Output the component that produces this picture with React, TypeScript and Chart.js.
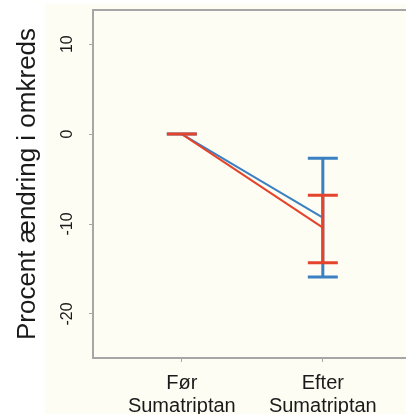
import React, { useEffect, useRef } from "react";
import { Chart, registerables } from "chart.js";

Chart.register(...registerables);

const categoryLabels: string[][] = [["Før", "Sumatriptan"], ["Efter", "Sumatriptan"]];
const categoryPositions = [1, 2];
const blueMeans = [0, -9.3];
const blueUpper = [0, -2.7];
const blueLower = [0, -15.9];
const redMeans = [0, -10.4];
const redUpper = [0, -6.8];
const redLower = [0, -14.3];
const yTicks = [-20, -10, 0, 10];
const yTitle = "Procent ændring i omkreds";

const BLUE = "#3b80c2";
const RED = "#e4442b";
const AXIS = "#a6a6a6";
const FONT = "'Liberation Sans', Arial, sans-serif";

export default function App() {
  const ref = useRef<HTMLCanvasElement | null>(null);

  useEffect(() => {
    const canvas = ref.current;
    if (!canvas) return;

    const bgPlugin = {
      id: "bg",
      beforeDraw(chart: any) {
        const { ctx, width, height } = chart;
        ctx.save();
        ctx.fillStyle = "#ffffff";
        ctx.fillRect(0, 0, width, height);
        ctx.fillStyle = "#fdfdf4";
        ctx.fillRect(45, 4, width - 45, height - 4);
        ctx.restore();
      },
    };

    const frameAndBars = {
      id: "frameAndBars",
      afterDatasetsDraw(chart: any) {
        const { ctx, chartArea, scales } = chart;
        const xs = scales.x;
        const ys = scales.y;
        ctx.save();
        ctx.strokeStyle = AXIS;
        ctx.lineWidth = 2;
        ctx.beginPath();
        ctx.moveTo(chartArea.left, chartArea.top);
        ctx.lineTo(chartArea.right, chartArea.top);
        ctx.stroke();

        const drawBars = (upper: number[], lower: number[], color: string) => {
          ctx.strokeStyle = color;
          ctx.lineWidth = 3;
          categoryPositions.forEach((pos, i) => {
            const x = xs.getPixelForValue(pos);
            const yT = ys.getPixelForValue(upper[i]);
            const yB = ys.getPixelForValue(lower[i]);
            const half = 15;
            ctx.beginPath();
            ctx.moveTo(x, yT);
            ctx.lineTo(x, yB);
            ctx.moveTo(x - half, yT);
            ctx.lineTo(x + half, yT);
            ctx.moveTo(x - half, yB);
            ctx.lineTo(x + half, yB);
            ctx.stroke();
          });
        };
        drawBars(blueUpper, blueLower, BLUE);
        drawBars(redUpper, redLower, RED);
        ctx.restore();
      },
    };

    const chart = new Chart(canvas, {
      type: "line",
      data: {
        datasets: [
          {
            label: "blue",
            data: categoryPositions.map((p, i) => ({ x: p, y: blueMeans[i] })),
            borderColor: BLUE,
            borderWidth: 2,
            pointRadius: 0,
            order: 2,
          },
          {
            label: "red",
            data: categoryPositions.map((p, i) => ({ x: p, y: redMeans[i] })),
            borderColor: RED,
            borderWidth: 2,
            pointRadius: 0,
            order: 1,
          },
        ],
      },
      options: {
        animation: false,
        responsive: false,
        devicePixelRatio: 1,
        layout: { padding: { left: 0, top: 10, right: 0, bottom: 0 } },
        plugins: { legend: { display: false }, tooltip: { enabled: false } },
        scales: {
          x: {
            type: "linear",
            min: 0.37,
            max: 2.59,
            afterBuildTicks(scale: any) {
              scale.ticks = categoryPositions.map((v) => ({ value: v }));
            },
            afterFit(scale: any) {
              scale.height = 56;
              scale.paddingLeft = 0;
              scale.paddingRight = 0;
            },
            border: { display: true, color: AXIS, width: 2 },
            grid: { drawOnChartArea: false, drawTicks: true, tickLength: 4, color: AXIS },
            ticks: {
              autoSkip: false,
              maxRotation: 0,
              minRotation: 0,
              padding: 10,
              color: "#1a1a1a",
              font: { family: FONT, size: 20, lineHeight: 1.15 },
              callback(value: any) {
                const idx = categoryPositions.indexOf(Number(value));
                return idx >= 0 ? categoryLabels[idx] : "";
              },
            },
          },
          y: {
            type: "linear",
            min: -24.9,
            max: 13.8,
            afterBuildTicks(scale: any) {
              scale.ticks = yTicks.map((v) => ({ value: v }));
            },
            afterFit(scale: any) {
              scale.width = 93;
              scale.paddingTop = 0;
              scale.paddingBottom = 0;
            },
            border: { display: true, color: AXIS, width: 2 },
            grid: { drawOnChartArea: false, drawTicks: true, tickLength: 4, color: AXIS },
            ticks: {
              minRotation: 90,
              maxRotation: 90,
              crossAlign: "center",
              padding: 10,
              color: "#1a1a1a",
              font: { family: FONT, size: 16 },
              callback(value: any) {
                return String(value);
              },
            },
            title: {
              display: true,
              text: yTitle,
              color: "#1a1a1a",
              font: { family: FONT, size: 26 },
              padding: { top: 12, bottom: 0 },
            },
          },
        },
      },
      plugins: [bgPlugin, frameAndBars],
    } as any);

    return () => chart.destroy();
  }, []);

  return (
    <div style={{ position: "absolute", left: 0, top: 0, width: 406, height: 414 }}>
      <canvas ref={ref} width={406} height={414} />
    </div>
  );
}
